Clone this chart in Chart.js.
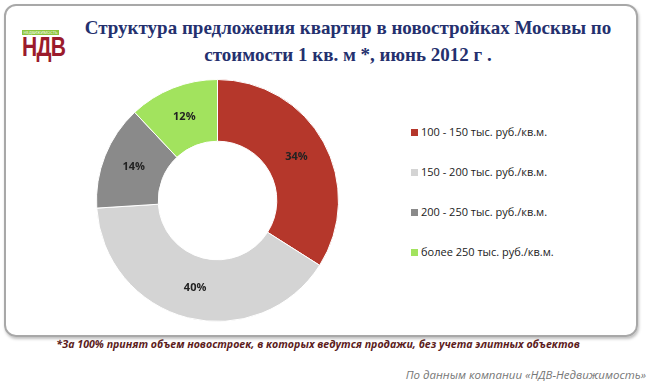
<!DOCTYPE html>
<html>
<head>
<meta charset="utf-8">
<script src="https://cdn.jsdelivr.net/npm/chart.js@4.4.1/dist/chart.umd.min.js"></script>
<style>
  html, body { margin: 0; padding: 0; background: #fff; }
  #page { position: relative; width: 653px; height: 389px; overflow: hidden; font-family: "Open Sans", "Liberation Sans", sans-serif; }
  #frame { position: absolute; left: 4px; top: 4px; width: 630px; height: 329px; border: 2px solid #a8a8a8; border-radius: 12px; box-shadow: 1px 2px 3px rgba(0,0,0,0.25); }
  #title { position: absolute; left: 70px; top: 14px; width: 556px; text-align: center; font-family: "Liberation Serif", serif; font-weight: bold; font-size: 19px; line-height: 27px; color: #24306e; }
  #logo { position: absolute; left: 22px; top: 30px; width: 37px; }
  #logo .band { height: 5px; background: #8dc63f; color: #fff; font-size: 4px; line-height: 5px; text-align: center; overflow: hidden; }
  #logo .word { font-family: "Liberation Sans", sans-serif; font-weight: bold; font-size: 27px; line-height: 24px; color: #9b1b2c; letter-spacing: -1px; transform: scaleX(0.78); transform-origin: left top; white-space: nowrap; }
  #chartBox { position: absolute; left: 96px; top: 79px; width: 243px; height: 243px; }
  #legend { position: absolute; left: 411px; top: 124px; font-size: 11px; color: #222; }
  #legend .row { height: 40px; display: flex; align-items: flex-start; }
  #legend .sw { width: 7px; height: 7px; margin: 5px 3px 0 0; }
  #note { position: absolute; left: 0; width: 636px; top: 337px; text-align: center; font-style: italic; font-weight: bold; font-size: 10.6px; color: #5c1c1c; }
  #source { position: absolute; right: 7px; top: 367px; font-style: italic; font-size: 11.5px; color: #777; }
</style>
</head>
<body>
<div id="page">
  <div id="frame"></div>
  <div id="logo"><div class="band">НЕДВИЖИМОСТЬ</div><div class="word">НДВ</div></div>
  <div id="title">Структура предложения квартир в новостройках Москвы по<br>стоимости 1 кв. м *, июнь 2012 г .</div>
  <div id="chartBox"><canvas id="donut"></canvas></div>
  <div id="legend"></div>
  <div id="note">*За 100% принят объем новостроек, в которых ведутся продажи, без учета элитных объектов</div>
  <div id="source">По данным компании «НДВ-Недвижимость»</div>
</div>
<script>
const categories = ['100 - 150 тыс. руб./кв.м.', '150 - 200 тыс. руб./кв.м.', '200 - 250 тыс. руб./кв.м.', 'более 250 тыс. руб./кв.м.'];
const shares = [34, 40, 14, 12];
const sliceColors = ['#b5372b', '#d4d4d4', '#8a8a8a', '#a2e35e'];

document.getElementById('legend').innerHTML = categories.map((c, i) =>
  `<div class="row"><span class="sw" style="background:${sliceColors[i]}"></span><span>${c}</span></div>`).join('');

// percent labels in the middle of each ring segment
const pctLabels = {
  id: 'pctLabels',
  afterDatasetsDraw(chart) {
    const ctx = chart.ctx;
    const meta = chart.getDatasetMeta(0);
    ctx.save();
    ctx.font = 'bold 11px "Open Sans", sans-serif';
    ctx.fillStyle = '#222';
    ctx.textAlign = 'center';
    ctx.textBaseline = 'middle';
    meta.data.forEach((arc, i) => {
      const p = arc.tooltipPosition();
      ctx.fillText(shares[i] + '%', p.x, p.y);
    });
    ctx.restore();
  }
};

new Chart(document.getElementById('donut'), {
  type: 'doughnut',
  data: {
    labels: categories,
    datasets: [{
      data: shares,
      backgroundColor: sliceColors,
      borderColor: '#ffffff',
      borderWidth: 1,
      hoverOffset: 0
    }]
  },
  options: {
    responsive: true,
    maintainAspectRatio: false,
    animation: false,
    cutout: '49%',
    plugins: { legend: { display: false }, tooltip: { enabled: false } }
  },
  plugins: [pctLabels]
});
</script>
</body>
</html>
